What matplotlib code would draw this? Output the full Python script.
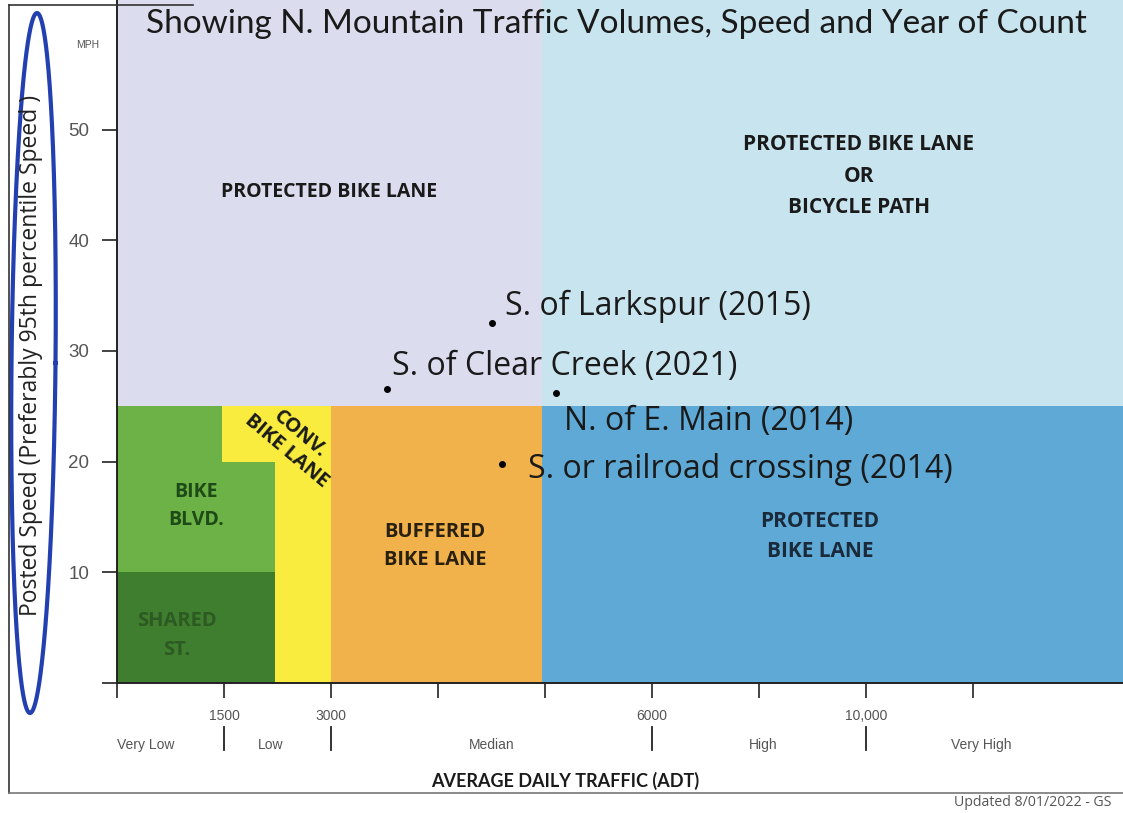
import numpy as np
import matplotlib
matplotlib.use("Agg")
import matplotlib.pyplot as plt
from matplotlib.patches import Rectangle
from matplotlib.lines import Line2D
import matplotlib.transforms as mtransforms

# ADT break points and where they sit on the (non-linear) printed axis
adt_breaks = [0, 1500, 3000, 6000, 10000, 16000]
axis_pos = [0, 1, 2, 5, 7, 10]

tick_adt = [0, 1500, 3000, 4000, 5000, 6000, 8000, 10000, 12000]
tick_labels = ["", "1500", "3000", "", "", "6000", "", "10,000", ""]
range_ticks = [1500, 3000, 6000, 10000]
range_names = ["Very Low", "Low", "Median", "High", "Very High"]
range_label_adt = [400, 2150, 4500, 8080, 12150]

speed_ticks = [0, 10, 20, 30, 40, 50]

# facility zones: (adt_from, adt_to, mph_from, mph_to)
zone_lavender = (0, 4970, 25, 62)
zone_lightblue = (4970, 16000, 25, 62)
zone_blue = (4970, 16000, 0, 25)
zone_orange = (3000, 4970, 0, 25)
zone_yellow = [(2220, 3000, 0, 25), (1470, 2220, 20, 25)]
zone_green = [(0, 2220, 10, 20), (0, 1470, 20, 25)]
zone_darkgreen = (0, 2220, 0, 10)

# count locations
site_names = ["S. of Larkspur (2015)", "S. of Clear Creek (2021)",
              "N. of E. Main (2014)", "S. or railroad crossing (2014)"]
site_adt = [4505, 3520, 5100, 4600]
site_mph = [32.5, 26.6, 26.2, 19.8]


def fwd(v):
    return np.interp(v, adt_breaks, axis_pos)


def inv(v):
    return np.interp(v, axis_pos, adt_breaks)


W, H = 1123, 813
fig = plt.figure(figsize=(W / 100, H / 100), dpi=100)
fig.patch.set_facecolor("white")

ax = fig.add_axes([117 / W, (H - 683) / H, 1 - 117 / W, 683 / H])
ax.set_xscale("function", functions=(fwd, inv))
ax.set_xlim(0, 14800)
ax.set_ylim(0, 61.7)


def box(z, color):
    ax.add_patch(Rectangle((z[0], z[2]), z[1] - z[0], z[3] - z[2],
                           facecolor=color, edgecolor="none", zorder=1))


box(zone_lavender, "#dcdcef")
box(zone_lightblue, "#c8e5ef")
box(zone_blue, "#5ea9d5")
box(zone_orange, "#f2b24b")
for z in zone_yellow:
    box(z, "#f9ec3e")
for z in zone_green:
    box(z, "#6cb247")
box(zone_darkgreen, "#3f7d2f")

# zone labels
bold = dict(family="Open Sans", weight="bold", ha="center", va="center", zorder=3)
ax.text(2970, 44.4, "PROTECTED BIKE LANE", color="#1a1a1a", fontsize=14,
        linespacing=1.55, **bold)
ax.text(9860, 45.8, "PROTECTED BIKE LANE\nOR\nBICYCLE PATH", color="#1a1a1a",
        fontsize=15, linespacing=1.68, **bold)
ax.text(1110, 16.0, "BIKE\nBLVD.", color="#1d4a16", fontsize=14,
        linespacing=1.55, **bold)
ax.text(840, 4.3, "SHARED\nST.", color="#2c5a22", fontsize=14.5,
        linespacing=1.55, **bold)
ax.text(3970, 12.4, "BUFFERED\nBIKE LANE", color="#2a2010", fontsize=14.5,
        linespacing=1.55, **bold)
ax.text(9140, 13.2, "PROTECTED\nBIKE LANE", color="#1a2a3a", fontsize=15,
        linespacing=1.55, **bold)
ax.text(2467, 21.7, "CONV.\nBIKE LANE", color="#1a1a1a", rotation=-40,
        family="Open Sans", weight="bold", fontsize=14.5, ha="center",
        va="center", linespacing=1.1, rotation_mode="anchor", zorder=3)

# count locations
ax.scatter(site_adt, site_mph, s=16, color="black", zorder=4)
offsets = [(13, 8), (5, 14), (8, -37), (26, -14)]
for name, xv, yv, off in zip(site_names, site_adt, site_mph, offsets):
    ax.annotate(name, (xv, yv), xytext=off, textcoords="offset pixels",
                family="Open Sans", fontsize=23, color="#1a1a1a",
                ha="left", va="baseline", zorder=5)

# axes styling
for s in ["top", "right"]:
    ax.spines[s].set_visible(False)
for s in ["left", "bottom"]:
    ax.spines[s].set_color("#222222")
    ax.spines[s].set_linewidth(1.4)

ax.set_yticks(speed_ticks)
ax.set_yticklabels([""] + [str(v) for v in speed_ticks[1:]],
                   family="Liberation Sans", fontsize=13.5, color="#555555")
ax.tick_params(axis="y", length=11, width=1.2, color="#222222", pad=9)

ax.set_xticks(tick_adt)
ax.set_xticklabels(tick_labels, family="Liberation Sans", fontsize=10,
                   color="#555555")
ax.xaxis.set_minor_locator(matplotlib.ticker.NullLocator())
ax.tick_params(axis="x", length=11, width=1.2, color="#222222", pad=8)

# second row: traffic ranges
trans = mtransforms.blended_transform_factory(ax.transData, ax.transAxes)
for t in range_ticks:
    ax.plot([t, t], [-0.064, -0.098], color="#222222", lw=1.3,
            transform=trans, clip_on=False)
for name, xv in zip(range_names, range_label_adt):
    ax.text(xv, -0.091, name, transform=trans, ha="center", va="center",
            family="Liberation Sans", fontsize=10, color="#555555")

ax.text(0.445, -0.144, "AVERAGE DAILY TRAFFIC (ADT)", transform=ax.transAxes,
        ha="center", va="center", family="Lato", weight="bold", fontsize=13,
        color="#1a1a1a")

# text outside axes
fig.text(88 / W, 1 - 45 / H, "MPH", family="Liberation Sans", fontsize=7.5,
         color="#555555", ha="center", va="center")
fig.text(31 / W, 1 - 355 / H, "Posted Speed (Preferably 95th percentile Speed )",
         rotation=90, family="Open Sans", fontsize=16.5, color="#222222",
         ha="center", va="center")
fig.text(616 / W, 1 - 24 / H,
         "Showing N. Mountain Traffic Volumes, Speed and Year of Count",
         family="Lato", fontsize=24, color="#1a1a1a", ha="center", va="center",
         zorder=6)
fig.text(954 / W, 1 - 806 / H, "Updated 8/01/2022 - GS", family="Open Sans",
         fontsize=10.2, color="#555555", ha="left", va="baseline")

# blue ring drawn (slightly tilted) around the axis title
t = np.linspace(0, 2 * np.pi, 400)
ring_x = 33.5 + 22 * np.cos(t) + 3.5 * np.sin(t)
ring_y = 363 - 350 * np.sin(t)
fig.add_artist(Line2D(ring_x / W, 1 - ring_y / H, color="#2340b0", lw=3))

# scanned page frame
fig.add_artist(Line2D([9 / W, 9 / W], [1 - 5 / H, 1 - 793 / H], color="#333333", lw=1.2))
fig.add_artist(Line2D([9 / W, 1], [1 - 793 / H, 1 - 793 / H], color="#777777", lw=1.2))
fig.add_artist(Line2D([9 / W, 193 / W], [1 - 5 / H, 1 - 5 / H], color="#333333", lw=1.2))

fig.savefig("out.png", dpi=100)
